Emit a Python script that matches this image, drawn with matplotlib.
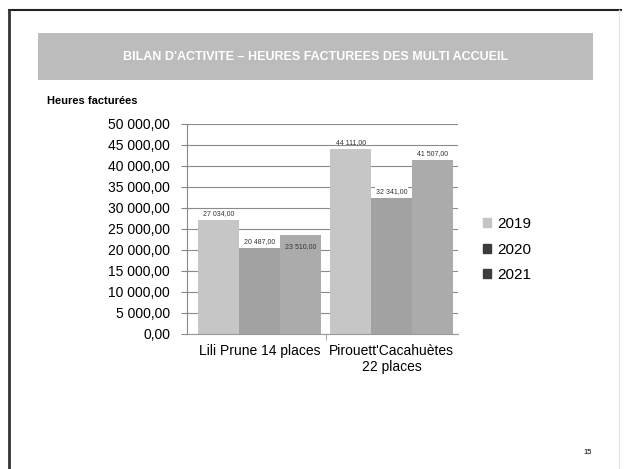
import matplotlib.pyplot as plt
import matplotlib.patches as mpatches
import numpy as np

categories = ["Lili Prune 14 places", "Pirouett'Cacahuètes\n22 places"]
years = ["2019", "2020", "2021"]
hours = {
    "2019": [27034, 44111],
    "2020": [20487, 32341],
    "2021": [23510, 41507],
}
value_labels = {
    "2019": ["27 034,00", "44 111,00"],
    "2020": ["20 487,00", "32 341,00"],
    "2021": ["23 510,00", "41 507,00"],
}
yticks = np.arange(0, 50001, 5000)
ytick_labels = ["0,00", "5 000,00", "10 000,00", "15 000,00", "20 000,00", "25 000,00",
                "30 000,00", "35 000,00", "40 000,00", "45 000,00", "50 000,00"]

bar_colors = {"2019": "#c6c6c6", "2020": "#a2a2a2", "2021": "#ababab"}
legend_colors = {"2019": "#c4c4c4", "2020": "#3c3c3c", "2021": "#3c3c3c"}

font = ["Liberation Sans", "DejaVu Sans"]
plt.rcParams['font.family'] = font

fig = plt.figure(figsize=(6.27, 4.69), dpi=100)
fig.patch.set_facecolor("white")

# slide frame and title banner
fig.add_artist(plt.Line2D([0.014, 0.99], [0.978, 0.978], color="#222222", lw=1.5))
fig.add_artist(plt.Line2D([0.015, 0.015], [0.0, 0.978], color="#333333", lw=2))
fig.add_artist(plt.Line2D([0.988, 0.988], [0.0, 0.978], color="#e6e6e6", lw=1))
fig.add_artist(mpatches.Rectangle((0.061, 0.829), 0.884, 0.100, transform=fig.transFigure,
                                  facecolor="#bcbcbc", edgecolor="none"))
fig.text(0.504, 0.879, "BILAN D'ACTIVITE \u2013 HEURES FACTUREES DES MULTI ACCUEIL",
         color="white", fontsize=9, fontweight="bold", ha="center", va="center")
fig.text(0.075, 0.785, "Heures facturées", fontsize=8, fontweight="bold", va="center")
fig.text(0.938, 0.036, "15", fontsize=5.5, ha="center", va="center")

ax = fig.add_axes([0.298, 0.288, 0.432, 0.448])
x = np.arange(len(categories))
w = 0.31
offsets = [-w, 0, w]
for i, yr in enumerate(years):
    ax.bar(x + offsets[i], hours[yr], w, color=bar_colors[yr], zorder=2)
    for j, v in enumerate(hours[yr]):
        dy = -3500 if (yr == "2021" and j == 0) else 700
        ax.text(x[j] + offsets[i], v + dy, value_labels[yr][j], fontsize=5,
                ha="center", va="bottom", color="#333333", zorder=3,
                bbox=dict(facecolor="white", edgecolor="none", pad=0.5) if yr == "2020" else None)

ax.set_ylim(0, 50000)
ax.set_xlim(-0.553, 1.5)
ax.set_yticks(yticks)
ax.set_yticklabels(ytick_labels, fontsize=10)
ax.yaxis.grid(True, color="#8a8a8a", lw=0.8, zorder=0)
ax.set_xticks([0.5], minor=True)
ax.set_xticks(x)
ax.set_xticklabels(categories, fontsize=10)
ax.tick_params(axis="x", which="major", length=0, pad=7)
ax.tick_params(axis="x", which="minor", length=4, color="#999999")
ax.tick_params(axis="y", length=4, color="#888888", pad=8)
for s in ["top", "right"]:
    ax.spines[s].set_visible(False)
ax.spines["left"].set_color("#888888")
ax.spines["bottom"].set_color("#999999")
ax.set_axisbelow(True)

handles = [mpatches.Patch(color=legend_colors[yr], label=yr) for yr in years]
fig.legend(handles=handles, loc="center left", bbox_to_anchor=(0.748, 0.468),
           frameon=False, handlelength=0.55, handleheight=0.55,
           handletextpad=0.4, labelspacing=0.75, prop={"size": 11})

fig.savefig("out.png", dpi=100)
